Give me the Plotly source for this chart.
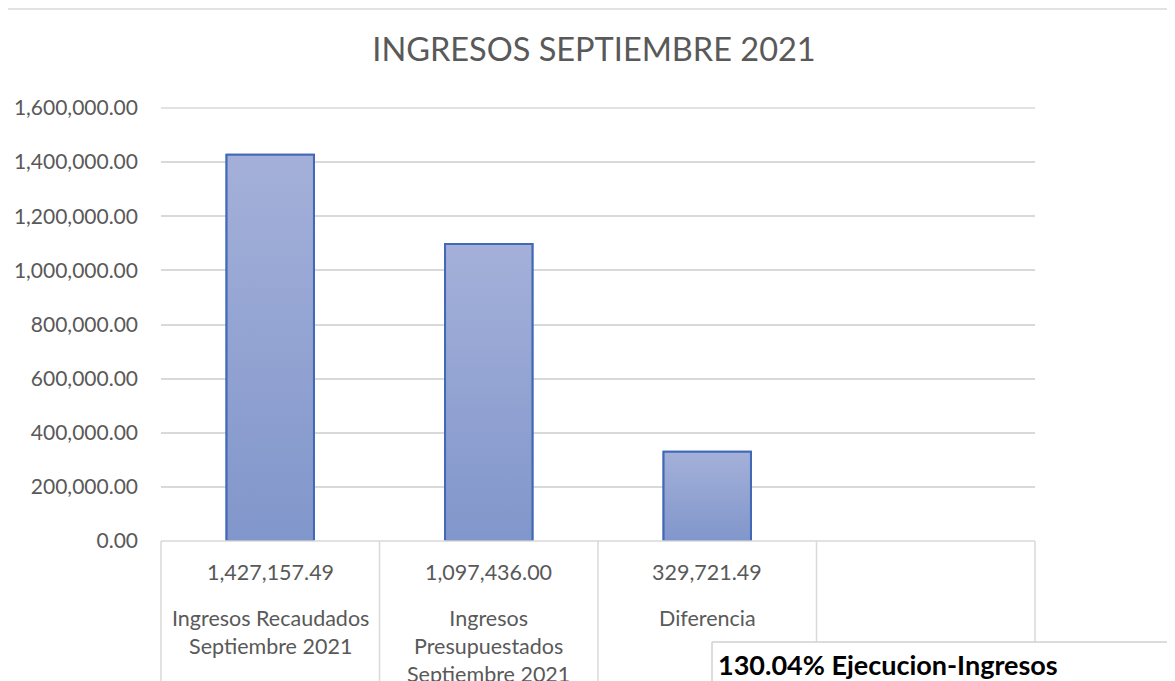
import plotly.graph_objects as go

# datos del grafico
categorias = ["Ingresos Recaudados<br>Septiembre 2021",
              "Ingresos<br>Presupuestados<br>Septiembre 2021",
              "Diferencia",
              ""]
valores = [1427157.49, 1097436.00, 329721.49]
titulo = "INGRESOS SEPTIEMBRE 2021"
nota = "130.04% Ejecucion-Ingresos"
ticks_y = [0, 200000, 400000, 600000, 800000, 1000000, 1200000, 1400000, 1600000]

FONT = "Lato"
GRIS = "#595959"
LINEA = "#D9D9D9"
BORDE = "#4169B6"
ANCHO = 0.4

# la pagina deja 8px de margen (body), el grafico se dibuja desde (8, 8)
OFF = 8
W, H = 1175 - OFF, 681 - OFF
ML, MR, MT, MB = 153, 140, 100, 140
pw, ph = W - ML - MR, H - MT - MB
n = len(categorias)

def px_x(px):  # pixel de pantalla -> paper
    return (px - OFF - ML) / pw

def px_y(py):
    return (H - MB - (py - OFF)) / ph

fig = go.Figure()
# barras (contorno)
fig.add_trace(go.Bar(
    x=list(range(len(valores))), y=valores, width=ANCHO,
    marker=dict(color="rgba(0,0,0,0)", line=dict(color=BORDE, width=2)),
    hoverinfo="skip"))
# relleno degradado de cada barra, con su borde encima
for i, v in enumerate(valores):
    fig.add_trace(go.Scatter(
        x=[i - ANCHO / 2, i + ANCHO / 2, i + ANCHO / 2, i - ANCHO / 2, i - ANCHO / 2],
        y=[0, 0, v, v, 0], mode="lines", line=dict(width=2, color=BORDE), fill="toself",
        fillgradient=dict(type="vertical", colorscale=[[0, "#8196CB"], [1, "#A4B0D9"]]),
        hoverinfo="skip"))

shapes = []
# marco exterior del grafico (solo se ven arriba e izquierda)
shapes.append(dict(type="line", xref="paper", yref="paper",
                   x0=px_x(7), x1=px_x(1300), y0=px_y(9), y1=px_y(9),
                   line=dict(color=LINEA, width=1.5), layer="below"))
shapes.append(dict(type="line", xref="paper", yref="paper",
                   x0=px_x(7), x1=px_x(7), y0=px_y(9), y1=px_y(800),
                   line=dict(color=LINEA, width=1.5), layer="below"))
# linea de division superior
shapes.append(dict(type="line", xref="paper", yref="paper", x0=0, x1=1, y0=1, y1=1,
                   line=dict(color=LINEA, width=1.5), layer="below"))
# tabla de datos
shapes.append(dict(type="line", xref="paper", yref="paper", x0=0, x1=1, y0=0, y1=0,
                   line=dict(color=LINEA, width=1.5)))
for i in range(n + 1):
    shapes.append(dict(type="line", xref="paper", yref="paper", x0=i / n, x1=i / n,
                       y0=0, y1=px_y(800), line=dict(color=LINEA, width=1.5)))
# cuadro de texto
shapes.append(dict(type="rect", xref="paper", yref="paper",
                   x0=px_x(712), x1=px_x(1300), y0=px_y(642), y1=px_y(800),
                   line=dict(width=0), fillcolor="white", layer="above"))
shapes.append(dict(type="line", xref="paper", yref="paper",
                   x0=px_x(712), x1=px_x(1300), y0=px_y(642), y1=px_y(642),
                   line=dict(color="#D0D0D0", width=1.5), layer="above"))
shapes.append(dict(type="line", xref="paper", yref="paper",
                   x0=px_x(712), x1=px_x(712), y0=px_y(642), y1=px_y(800),
                   line=dict(color="#D0D0D0", width=1.5), layer="above"))

annotations = []
for i, cat in enumerate(categorias):
    xc = (i + 0.5) / n
    if i < len(valores):
        annotations.append(dict(x=xc, y=px_y(572), xref="paper", yref="paper",
                                text=f"{valores[i]:,.2f}", showarrow=False,
                                xanchor="center", yanchor="middle",
                                font=dict(family=FONT, size=21.5, color=GRIS)))
    if cat:
        annotations.append(dict(x=xc, y=px_y(603), xref="paper", yref="paper",
                                text=cat, showarrow=False, xanchor="center", yanchor="top",
                                font=dict(family=FONT, size=21.5, color=GRIS)))
annotations.append(dict(x=px_x(716), y=px_y(664), xref="paper", yref="paper",
                        text=f"<b>{nota}</b>", showarrow=False, xanchor="left", yanchor="middle",
                        font=dict(family=FONT, size=27, color="black")))

fig.update_layout(
    width=W, height=H,
    margin=dict(l=ML, r=MR, t=MT, b=MB),
    paper_bgcolor="white", plot_bgcolor="white",
    title=dict(text=titulo, xref="container", x=(594 - OFF) / W, xanchor="center",
               yref="container", y=1 - (50 - OFF) / H, yanchor="middle",
               font=dict(family=FONT, size=32.5, color=GRIS)),
    showlegend=False,
    xaxis=dict(range=[-0.5, n - 0.5], showticklabels=False, showgrid=False,
               zeroline=False, showline=False, fixedrange=True, automargin=False),
    yaxis=dict(range=[0, 1600000], tickvals=ticks_y, tickformat=",.2f",
               gridcolor=LINEA, gridwidth=1.5, zeroline=False, showline=False,
               ticklabelstandoff=22, automargin=False,
               tickfont=dict(family=FONT, size=21, color=GRIS)),
    shapes=shapes, annotations=annotations,
)

fig.write_html("out.html")
